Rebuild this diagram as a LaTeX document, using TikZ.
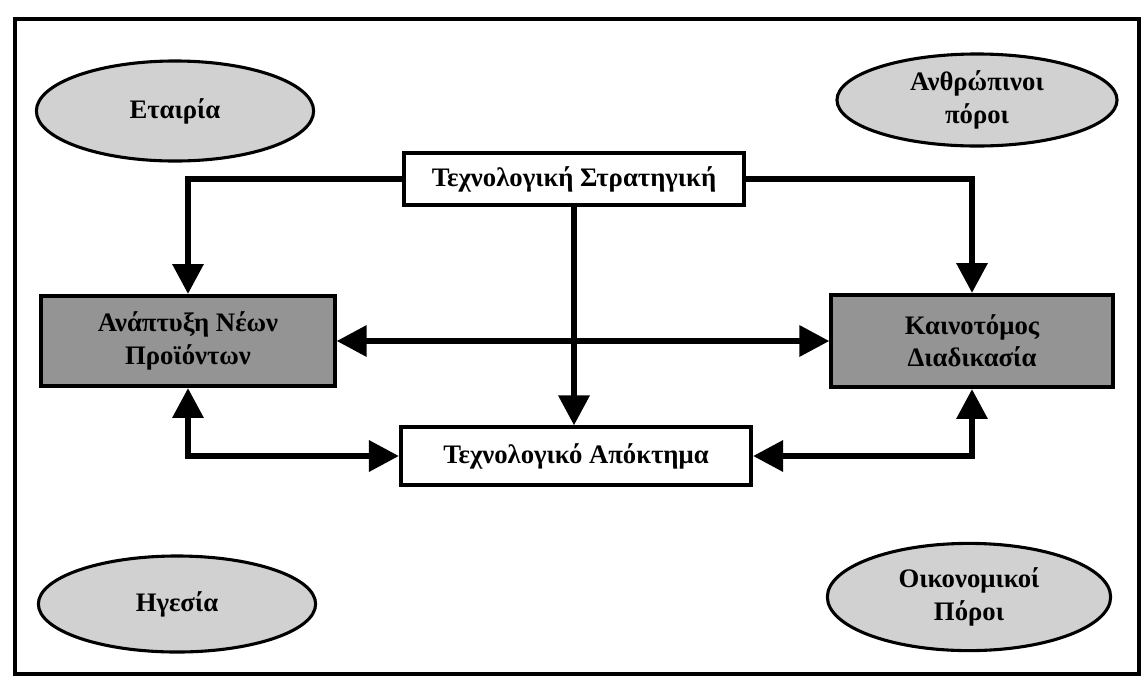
\documentclass[tikz,border=0pt]{standalone}
\usepackage{fontspec}
\setmainfont{Liberation Serif}
\usetikzlibrary{shapes.geometric,arrows.meta}

\begin{document}
\begin{tikzpicture}[x=0.025cm,y=-0.025cm,
  every node/.style={font=\fontsize{19}{23}\selectfont\bfseries, align=center, inner sep=0pt},
  oval/.style={ellipse, draw, line width=2.2pt, fill=black!18},
  lightbox/.style={rectangle, draw, line width=2.8pt, fill=white},
  darkbox/.style={rectangle, draw, line width=2.8pt, fill=black!42},
  conn/.style={line width=4.5pt, -{Triangle[length=0.75cm,width=0.75cm]}},
  biconn/.style={line width=4.5pt, {Triangle[length=0.75cm,width=0.75cm]}-{Triangle[length=0.75cm,width=0.75cm]}}
]
\useasboundingbox (0,0) rectangle (1144,686);

% outer frame
\draw[line width=3.5pt] (15,19) rectangle (1139,674);

% resource ellipses in the corners
\node[oval, minimum width=6.93cm, minimum height=2.5cm]  (firm)   at (175,111) {Εταιρία};
\node[oval, minimum width=7.0cm,  minimum height=2.3cm]  (human)  at (977,100) {Ανθρώπινοι\\πόροι};
\node[oval, minimum width=6.93cm, minimum height=2.4cm]  (lead)   at (177,604) {Ηγεσία};
\node[oval, minimum width=7.08cm, minimum height=2.68cm] (money)  at (969,597) {Οικονομικοί\\Πόροι};

% central boxes
\node[lightbox, minimum width=8.5cm,  minimum height=1.3cm]  (strat) at (574,179) {Τεχνολογική Στρατηγική};
\node[lightbox, minimum width=8.75cm, minimum height=1.43cm] (acq)   at (576,456) {Τεχνολογικό Απόκτημα};
\node[darkbox,  minimum width=7.33cm, minimum height=2.25cm] (npd)   at (188,341) {Ανάπτυξη Νέων\\Προϊόντων};
\node[darkbox,  minimum width=7.03cm, minimum height=2.3cm]  (inn)   at (972,341) {Καινοτόμος\\Διαδικασία};

% connectors
\draw[conn] (strat.west) -| (npd.north);
\draw[conn] (strat.east) -| (inn.north);
\draw[conn] (strat.south) -- (strat.south |- acq.north);
\draw[biconn] (npd.east) -- (inn.west);
\draw[biconn] (npd.south) |- (acq.west);
\draw[biconn] (acq.east) -| (inn.south);
\end{tikzpicture}
\end{document}
